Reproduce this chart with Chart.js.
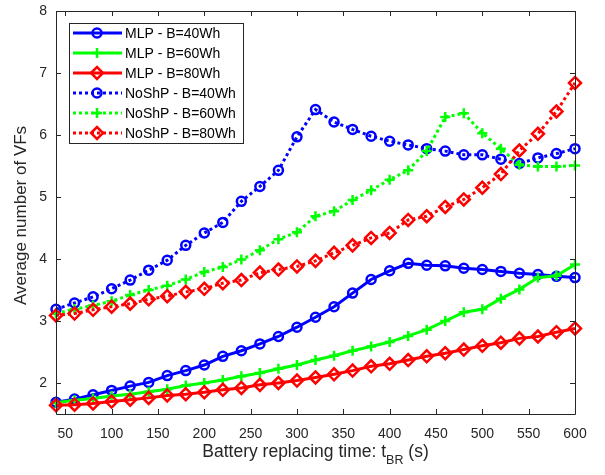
<!DOCTYPE html>
<html>
<head>
<meta charset="utf-8">
<script src="https://cdn.jsdelivr.net/npm/chart.js@4/dist/chart.umd.min.js"></script>
<style>
  body { margin: 0; background: #fff; }
  #wrap { width: 605px; height: 475px; }
</style>
</head>
<body>
<div id="wrap"><canvas id="grafico" width="605" height="475"></canvas></div>
<script>
// dados
const tempos = [40, 60, 80, 100, 120, 140, 160, 180, 200, 220, 240, 260, 280, 300, 320,
  340, 360, 380, 400, 420, 440, 460, 480, 500, 520, 540, 560, 580, 600];
const mlp40 = [1.69, 1.74, 1.81, 1.88, 1.95, 2.01, 2.12, 2.20, 2.29, 2.43, 2.52, 2.63, 2.75, 2.90, 3.06,
  3.23, 3.45, 3.67, 3.81, 3.93, 3.90, 3.89, 3.85, 3.83, 3.80, 3.77, 3.75, 3.72, 3.70];
const mlp60 = [1.68, 1.72, 1.75, 1.79, 1.82, 1.86, 1.90, 1.96, 2.00, 2.05, 2.11, 2.16, 2.23, 2.29, 2.37,
  2.44, 2.52, 2.59, 2.66, 2.76, 2.86, 3.00, 3.14, 3.19, 3.36, 3.51, 3.70, 3.73, 3.91];
const mlp80 = [1.64, 1.65, 1.67, 1.70, 1.73, 1.76, 1.80, 1.82, 1.85, 1.89, 1.92, 1.97, 2.00, 2.04, 2.09,
  2.14, 2.20, 2.27, 2.31, 2.37, 2.43, 2.48, 2.54, 2.60, 2.65, 2.72, 2.75, 2.82, 2.88];
const noshp40 = [3.19, 3.29, 3.39, 3.52, 3.66, 3.82, 3.98, 4.22, 4.42, 4.59, 4.93, 5.17, 5.43, 5.97, 6.41,
  6.21, 6.09, 5.98, 5.90, 5.84, 5.78, 5.74, 5.68, 5.68, 5.61, 5.54, 5.63, 5.70, 5.78];
const noshp60 = [3.12, 3.19, 3.25, 3.32, 3.42, 3.50, 3.57, 3.67, 3.79, 3.87, 3.99, 4.14, 4.32, 4.43, 4.69,
  4.77, 4.95, 5.11, 5.28, 5.43, 5.74, 6.29, 6.35, 6.03, 5.78, 5.52, 5.49, 5.49, 5.51];
const noshp80 = [3.09, 3.12, 3.18, 3.23, 3.28, 3.35, 3.40, 3.47, 3.52, 3.61, 3.66, 3.78, 3.83, 3.88, 3.97,
  4.10, 4.22, 4.34, 4.42, 4.63, 4.69, 4.84, 4.96, 5.15, 5.37, 5.75, 6.02, 6.38, 6.84];
const xTicks = [50, 100, 150, 200, 250, 300, 350, 400, 450, 500, 550, 600];
const yTicks = [2, 3, 4, 5, 6, 7, 8];

const FONTE = '"Liberation Sans", Arial, Helvetica, sans-serif';
const CINZA = '#262626';

function serie(label, valores, cor, marcador, raio, pontilhado) {
  return {
    label: label,
    data: tempos.map((t, i) => ({ x: t, y: valores[i] })),
    borderColor: cor,
    borderWidth: 3,
    borderDash: pontilhado ? [3, 3] : [],
    pointStyle: marcador,
    pointRadius: raio,
    pointBorderColor: cor,
    pointBackgroundColor: 'rgba(255,255,255,0)',
    pointBorderWidth: 2.5,
    tension: 0,
    clip: false
  };
}

const datasets = [
  serie('MLP - B=40Wh', mlp40, '#0000ff', 'circle', 4.5, false),
  serie('MLP - B=60Wh', mlp60, '#00ff00', 'cross', 5, false),
  serie('MLP - B=80Wh', mlp80, '#ff0000', 'rectRot', 6, false),
  serie('NoShP - B=40Wh', noshp40, '#0000ff', 'circle', 4.5, true),
  serie('NoShP - B=60Wh', noshp60, '#00ff00', 'cross', 5, true),
  serie('NoShP - B=80Wh', noshp80, '#ff0000', 'rectRot', 6, true)
];
// as últimas séries ficam por cima
datasets.forEach((d, i) => d.order = -i);

// caixa dos eixos, ticks para dentro, títulos e legenda
const estiloMatlab = {
  id: 'estiloMatlab',
  afterDraw(chart) {
    const ctx = chart.ctx;
    const a = chart.chartArea;
    const sx = chart.scales.x, sy = chart.scales.y;
    ctx.save();
    ctx.strokeStyle = CINZA;
    ctx.lineWidth = 1;
    ctx.beginPath();
    ctx.rect(Math.round(a.left) + 0.5, Math.round(a.top) + 0.5, Math.round(a.right - a.left), Math.round(a.bottom - a.top));
    xTicks.forEach(v => {
      const px = Math.round(sx.getPixelForValue(v)) + 0.5;
      ctx.moveTo(px, a.bottom); ctx.lineTo(px, a.bottom - 5);
      ctx.moveTo(px, a.top); ctx.lineTo(px, a.top + 5);
    });
    yTicks.forEach(v => {
      const py = Math.round(sy.getPixelForValue(v)) + 0.5;
      ctx.moveTo(a.left, py); ctx.lineTo(a.left + 5, py);
      ctx.moveTo(a.right, py); ctx.lineTo(a.right - 5, py);
    });
    ctx.stroke();

    // título do eixo x com subscrito
    ctx.fillStyle = CINZA;
    ctx.textBaseline = 'alphabetic';
    const partes = ['Battery replacing time: t', 'BR', ' (s)'];
    ctx.font = '17.5px ' + FONTE;
    const w1 = ctx.measureText(partes[0]).width;
    const w3 = ctx.measureText(partes[2]).width;
    ctx.font = '12.5px ' + FONTE;
    const w2 = ctx.measureText(partes[1]).width;
    let x0 = (a.left + a.right) / 2 - (w1 + w2 + w3) / 2;
    const base = 457;
    ctx.textAlign = 'left';
    ctx.font = '17.5px ' + FONTE;
    ctx.fillText(partes[0], x0, base);
    ctx.font = '12.5px ' + FONTE;
    ctx.fillText(partes[1], x0 + w1, base + 7);
    ctx.font = '17.5px ' + FONTE;
    ctx.fillText(partes[2], x0 + w1 + w2, base);

    // título do eixo y
    ctx.save();
    ctx.translate(21, (a.top + a.bottom) / 2 + 3);
    ctx.rotate(-Math.PI / 2);
    ctx.textAlign = 'center';
    ctx.textBaseline = 'middle';
    ctx.font = '17px ' + FONTE;
    ctx.fillText('Average number of VFs', 0, 0);
    ctx.restore();

    // legenda dentro do gráfico
    const lx = 69, ly = 23, lw = 174, lh = 120;
    ctx.fillStyle = '#fff';
    ctx.fillRect(lx, ly, lw, lh);
    ctx.strokeStyle = '#262626';
    ctx.strokeRect(lx + 0.5, ly + 0.5, lw, lh);
    chart.data.datasets.forEach((ds, i) => {
      const y = ly + 10 + i * 20;
      ctx.save();
      ctx.strokeStyle = ds.borderColor;
      ctx.lineWidth = ds.borderWidth;
      ctx.setLineDash(ds.borderDash);
      ctx.beginPath();
      ctx.moveTo(73, y); ctx.lineTo(122, y);
      ctx.stroke();
      ctx.setLineDash([]);
      ctx.lineWidth = ds.pointBorderWidth;
      ctx.strokeStyle = ds.pointBorderColor;
      ctx.fillStyle = ds.pointBackgroundColor;
      Chart.helpers.drawPoint(ctx, { pointStyle: ds.pointStyle, radius: ds.pointRadius, rotation: 0, borderWidth: ds.pointBorderWidth }, 97, y);
      ctx.restore();
      ctx.fillStyle = '#000';
      ctx.font = '14px ' + FONTE;
      ctx.textAlign = 'left';
      ctx.textBaseline = 'middle';
      ctx.fillText(ds.label, 125, y + 1);
    });
    ctx.restore();
  }
};

new Chart(document.getElementById('grafico'), {
  type: 'line',
  data: { datasets: datasets },
  options: {
    responsive: false,
    animation: false,
    devicePixelRatio: 1,
    layout: { padding: { top: 11, right: 30, left: 0, bottom: 0 } },
    plugins: {
      legend: { display: false },
      tooltip: { enabled: false }
    },
    scales: {
      x: {
        type: 'linear',
        min: 40,
        max: 600,
        afterBuildTicks: s => { s.ticks = xTicks.map(v => ({ value: v })); },
        afterFit: s => { s.height = 61; },
        grid: { display: false, drawTicks: false },
        border: { display: false },
        ticks: { color: CINZA, font: { family: FONTE, size: 14 }, padding: 12, maxRotation: 0, autoSkip: false }
      },
      y: {
        type: 'linear',
        min: 1.5,
        max: 8,
        afterBuildTicks: s => { s.ticks = yTicks.map(v => ({ value: v })); },
        afterFit: s => { s.width = 56; },
        grid: { display: false, drawTicks: false },
        border: { display: false },
        ticks: { color: CINZA, font: { family: FONTE, size: 14, lineHeight: 0.285 }, padding: 9 }
      }
    }
  },
  plugins: [estiloMatlab]
});
</script>
</body>
</html>
